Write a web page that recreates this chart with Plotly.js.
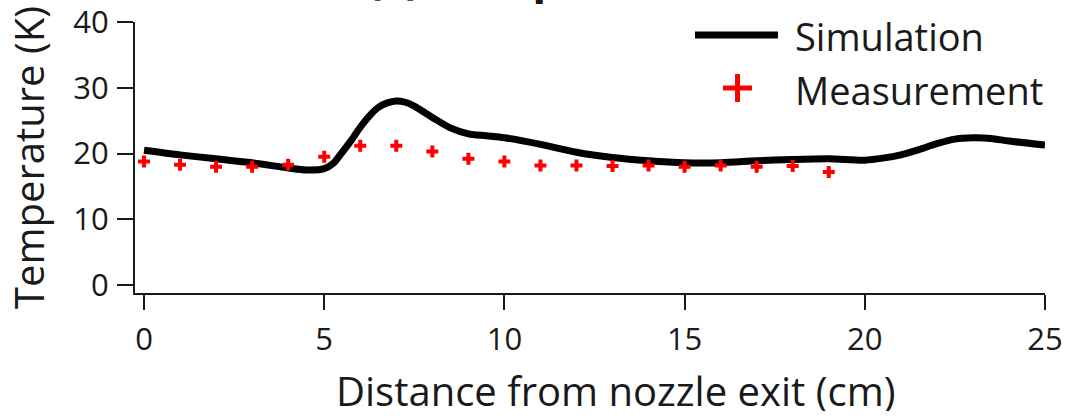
<!DOCTYPE html>
<html>
<head>
<meta charset="utf-8">
<script src="https://cdn.plot.ly/plotly-3.0.1.min.js"></script>
<style>
  html, body { margin: 0; padding: 0; background: #fff; }
  #chart { width: 1067px; height: 416px; }
</style>
</head>
<body>
<div id="chart"></div>
<script>
// Simulated centreline temperature (K) against distance from the nozzle exit (cm)
const simDistance = [0, 1, 2, 3, 4, 4.5, 5, 5.25, 5.5, 5.75, 6, 6.25, 6.5, 6.75, 7, 7.25, 7.5,
                     8, 8.5, 9, 9.5, 10, 11, 12, 13, 14, 15, 16, 17, 18, 19, 20, 20.5, 21,
                     21.5, 22, 22.5, 23, 23.5, 24, 25];
const simTemperature = [20.5, 19.8, 19.2, 18.6, 17.8, 17.5, 17.7, 18.5, 20.2, 22.0, 24.0, 25.7,
                        27.0, 27.7, 28.0, 27.8, 27.2, 25.5, 23.9, 23.0, 22.7, 22.4, 21.4, 20.2,
                        19.4, 18.9, 18.6, 18.6, 18.9, 19.1, 19.2, 19.0, 19.3, 19.8, 20.6, 21.5,
                        22.2, 22.4, 22.3, 21.9, 21.3];

// Measured temperatures at each centimetre
const measDistance = [0, 1, 2, 3, 4, 5, 6, 7, 8, 9, 10, 11, 12, 13, 14, 15, 16, 17, 18, 19];
const measTemperature = [18.8, 18.3, 18.0, 18.0, 18.3, 19.5, 21.2, 21.2, 20.3, 19.2, 18.8, 18.2,
                         18.2, 18.1, 18.2, 18.0, 18.2, 18.0, 18.1, 17.2];

const xTicks = [0, 5, 10, 15, 20, 25];
const yTicks = [0, 10, 20, 30, 40];

const FONT = '"Open Sans", Lato, sans-serif';
const INK = '#1a1a1a';

const traces = [
  {
    x: simDistance, y: simTemperature, type: 'scatter', mode: 'lines', name: 'Simulation',
    line: { color: '#000000', width: 7, shape: 'spline', smoothing: 0.8 },
    cliponaxis: false
  },
  {
    x: measDistance, y: measTemperature, type: 'scatter', mode: 'markers', name: 'Measurement',
    marker: { symbol: 'cross', color: '#ff0000', size: 10, line: { width: 0 } },
    cliponaxis: false
  }
];

// plot-area pixel helpers for the hand-built legend (plot area spans 135..1045 x 22..293)
const px = v => (v - 135) / 910;
const py = v => (293 - v) / 271;

const layout = {
  width: 1067, height: 416,
  margin: { l: 135, r: 22, t: 22, b: 123 },
  paper_bgcolor: '#ffffff', plot_bgcolor: '#ffffff',
  showlegend: false,
  font: { family: FONT, color: INK },
  title: {
    text: '<b>(c) Temperature field</b>',
    font: { family: FONT, size: 46, color: INK },
    x: 608 / 1067, xanchor: 'center', xref: 'container',
    y: 1, yanchor: 'bottom', yref: 'container', pad: { b: 7 }
  },
  xaxis: {
    range: [-0.25, 25], tickvals: xTicks, ticktext: xTicks.map(String),
    showgrid: false, zeroline: false, showline: true, linecolor: INK, linewidth: 2,
    ticks: 'outside', ticklen: 15, tickwidth: 2, tickcolor: INK,
    tickfont: { family: FONT, size: 31, color: INK }, ticklabelstandoff: 3,
    ticklabeloverflow: 'allow', fixedrange: true
  },
  yaxis: {
    range: [-1.2, 40], tickvals: yTicks, ticktext: yTicks.map(String),
    showgrid: false, zeroline: false, showline: true, linecolor: INK, linewidth: 2,
    ticks: 'outside', ticklen: 16, tickwidth: 2, tickcolor: INK,
    tickfont: { family: FONT, size: 31, color: INK }, ticklabelstandoff: 2,
    ticklabeloverflow: 'allow',
    title: { text: 'Temperature (K)', font: { family: FONT, size: 40, color: INK } },
    fixedrange: true
  },
  annotations: [
    {
      text: 'Distance from nozzle exit (cm)', xref: 'paper', yref: 'paper',
      x: px(615), y: py(412), xanchor: 'center', yanchor: 'bottom', showarrow: false,
      height: 42, valign: 'middle', borderpad: 0,
      font: { family: FONT, size: 40, color: INK }
    },
    {
      text: 'Simulation', xref: 'paper', yref: 'paper',
      x: px(793), y: py(36), xanchor: 'left', yanchor: 'middle', showarrow: false,
      font: { family: FONT, size: 38, color: INK }
    },
    {
      text: 'Measurement', xref: 'paper', yref: 'paper',
      x: px(793), y: py(90), xanchor: 'left', yanchor: 'middle', showarrow: false,
      font: { family: FONT, size: 38, color: INK }
    }
  ],
  shapes: [
    { type: 'line', xref: 'paper', yref: 'paper', x0: px(695), x1: px(778), y0: py(35), y1: py(35),
      line: { color: '#000000', width: 7 } },
    { type: 'line', xref: 'paper', yref: 'paper', x0: px(723), x1: px(752), y0: py(88), y1: py(88),
      line: { color: '#ff0000', width: 5 } },
    { type: 'line', xref: 'paper', yref: 'paper', x0: px(737.5), x1: px(737.5), y0: py(74), y1: py(102),
      line: { color: '#ff0000', width: 5 } }
  ]
};

Plotly.newPlot('chart', traces, layout, { displayModeBar: false, staticPlot: true });
</script>
</body>
</html>
